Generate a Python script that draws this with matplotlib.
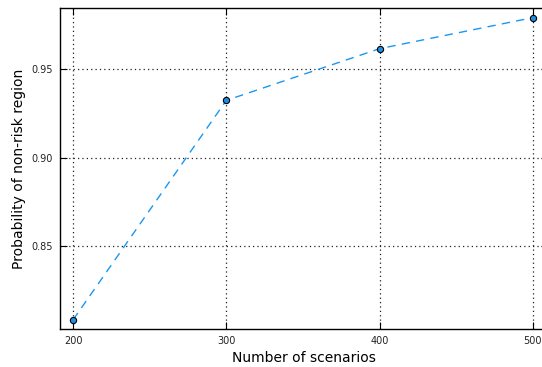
import matplotlib
matplotlib.use("Agg")
import matplotlib.pyplot as plt

# Daten
scenarios = [200, 300, 400, 500]
probability = [0.808, 0.9324, 0.9617, 0.9793]
x_ticks = [200, 300, 400, 500]
y_ticks = [0.85, 0.90, 0.95]

fig = plt.figure(figsize=(5.42, 3.67), dpi=100)
ax = fig.add_axes([0.1107, 0.1044, 0.9007, 0.873])

ax.plot(scenarios, probability, linestyle='--', color='#1A98F0', linewidth=1.0,
        marker='o', markersize=4.5, markerfacecolor='#1A8FE8',
        markeredgecolor='black', markeredgewidth=0.8, dashes=(6, 4.5))

ax.set_xlim(191.5, 510)
ax.set_ylim(0.803, 0.9846)
ax.set_xticks(x_ticks)
ax.set_yticks(y_ticks)
ax.set_yticklabels(['%.2f' % v for v in y_ticks])
ax.grid(True, linestyle=(0, (1, 2.5)), color='#222222', linewidth=0.9)
ax.tick_params(direction='in', top=True, right=True, length=5, labelsize=7, pad=5,
               labelcolor='#222222')
for s in ax.spines.values():
    s.set_linewidth(1.0)

ax.set_xlabel('Number of scenarios', fontsize=10)
ax.set_ylabel('Probability of non-risk region', fontsize=10)

fig.savefig('out.png', dpi=100, facecolor='white')
